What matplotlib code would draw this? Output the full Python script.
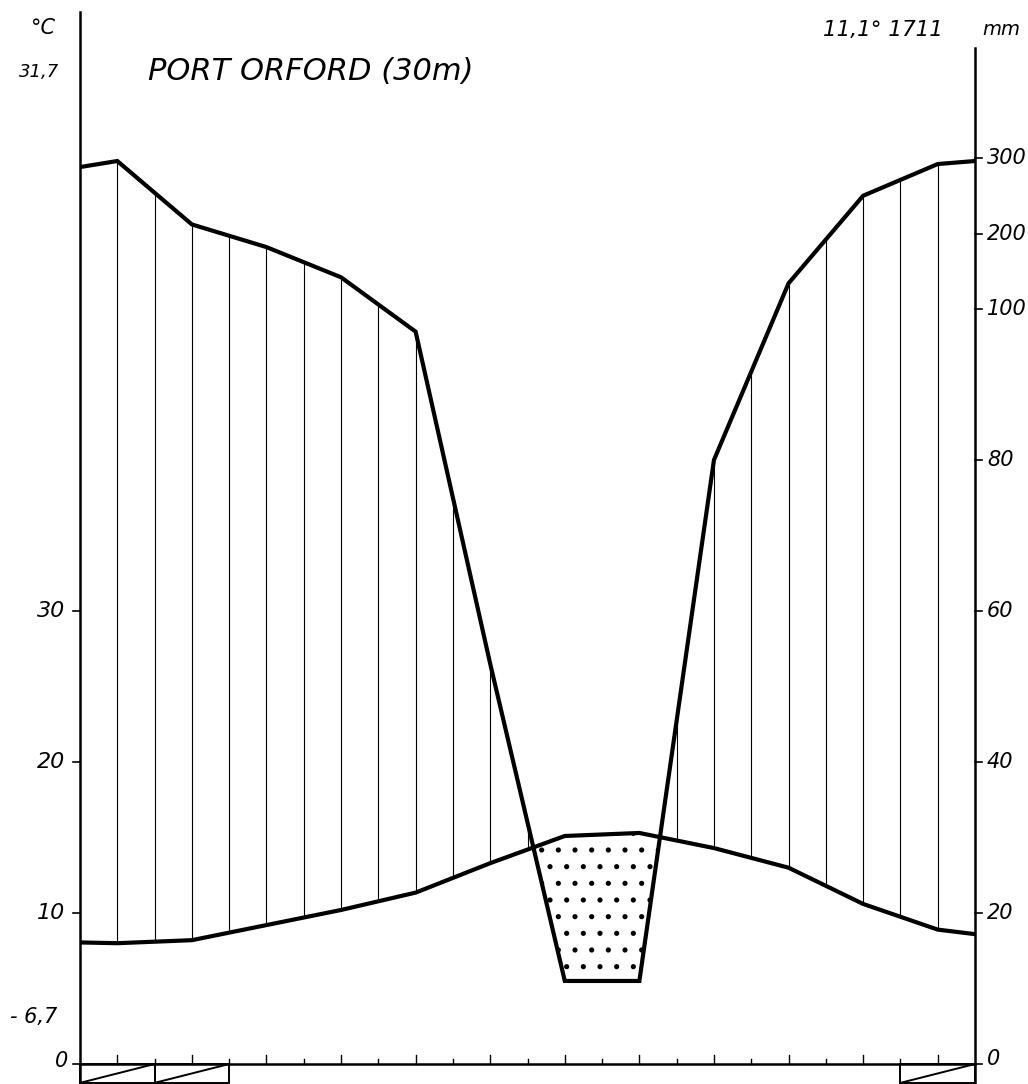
import numpy as np
import matplotlib
matplotlib.use("Agg")
import matplotlib.pyplot as plt
from matplotlib.patches import Rectangle

# Port Orford climate diagram (Walter-Lieth style)
months = ["J", "F", "M", "A", "M", "J", "J", "A", "S", "O", "N", "D"]
temp_c = [8.0, 8.2, 9.2, 10.2, 11.35, 13.3, 15.1, 15.3, 14.3, 13.0, 10.6, 8.9]
precip_mm = [296, 212, 182, 142, 97, 53, 11, 11, 80, 134, 250, 292]
temp_edges = [8.05, 8.6]       # values drawn on the left / right axis
precip_edges = [288, 296]
frost_months = [0, 1, 11]      # months with absolute minimum below zero

temp_ticks = [10, 20, 30]
precip_ticks = [0, 20, 40, 60, 80, 100, 200, 300]

station = "PORT ORFORD (30m)"
summary = "11,1° 1711"
abs_max = "31,7"
abs_min = "- 6,7"


def mm_to_y(p):
    # 10 °C = 20 mm below 100 mm, scale reduced 1:10 above 100 mm
    p = np.asarray(p, dtype=float)
    return np.where(p <= 100, p / 2.0, 50 + (p - 100) / 20.0)


x = np.concatenate([[0], np.arange(12) + 0.5, [12]])
t = np.concatenate([[temp_edges[0]], temp_c, [temp_edges[1]]])
p = mm_to_y(np.concatenate([[precip_edges[0]], precip_mm, [precip_edges[1]]]))

fig = plt.figure(figsize=(10.28, 10.84), dpi=100)
ax = fig.add_axes([80 / 1028, 0, 895 / 1028, 1])
ax.set_xlim(0, 12)
ax.set_ylim(-20 / 15.1, 1064 / 15.1)
ax.axis("off")

lw_curve = 3.0
lw_axis = 1.8
lw_thin = 0.8
font = dict(family="DejaVu Sans", style="italic", color="black")

# humid part: vertical lines every half month between the two curves
xs = np.arange(1, 24) * 0.5
ti = np.interp(xs, x, t)
pi = np.interp(xs, x, p)
wet = pi > ti
ax.vlines(xs[wet], ti[wet], pi[wet], color="black", lw=lw_thin)

# arid part: dotted
plt.rcParams["hatch.linewidth"] = 1.3
ax.fill_between(x, t, p, where=t > p, interpolate=True, facecolor="none",
                edgecolor="black", hatch=".", linewidth=0)

ax.plot(x, p, color="black", lw=lw_curve, solid_joinstyle="miter", zorder=3)
ax.plot(x, t, color="black", lw=lw_curve, solid_joinstyle="miter", zorder=3)

# axes
top_left = 69.7
top_right = 67.3
ax.plot([0, 0], [-1.4, top_left], color="black", lw=lw_axis, clip_on=False)
ax.plot([12, 12], [-1.25, top_right], color="black", lw=lw_axis, clip_on=False)
ax.plot([0, 12], [0, 0], color="black", lw=lw_axis, clip_on=False)

# month ticks on the base line
for k in range(1, 24):
    h = 0.6 if k % 2 else 0.3
    ax.plot([k * 0.5, k * 0.5], [0, h], color="black", lw=1.0)

# frost months below the base line
for m in frost_months:
    ax.add_patch(Rectangle((m, -1.25), 1, 1.25, facecolor="none",
                           edgecolor="black", lw=1.4, clip_on=False))
    ax.plot([m, m + 1], [-1.25, 0], color="black", lw=1.4, clip_on=False)

# left temperature scale
for v in temp_ticks:
    ax.plot([-0.09, 0], [v, v], color="black", lw=1.2, clip_on=False)
    ax.text(-0.2, v, str(v), ha="right", va="center", fontsize=16, **font)
ax.plot([-0.09, 0], [0, 0], color="black", lw=1.2, clip_on=False)
ax.text(-0.16, 0.2, "0", ha="right", va="center", fontsize=15, **font)
ax.text(-0.94, 3.1, abs_min, ha="left", va="center", fontsize=15, **font)
ax.text(-0.55, 65.7, abs_max, ha="center", va="center", fontsize=13, **font)
ax.text(-0.50, 68.6, "°C", ha="center", va="center", fontsize=15, **font)

# right precipitation scale
for v, yv in zip(precip_ticks, mm_to_y(precip_ticks)):
    ax.plot([12, 12.09], [yv, yv], color="black", lw=1.2, clip_on=False)
    ax.text(12.16, yv + (0.3 if v == 0 else 0), str(v), ha="left",
            va="center", fontsize=15, **font)

ax.text(0.91, 65.7, station, ha="left", va="center", fontsize=22, **font)
ax.text(9.96, 68.5, summary, ha="left", va="center", fontsize=15.5, **font)
ax.text(12.1, 68.5, "mm", ha="left", va="center", fontsize=14, **font)

fig.savefig("out.png", dpi=100)
